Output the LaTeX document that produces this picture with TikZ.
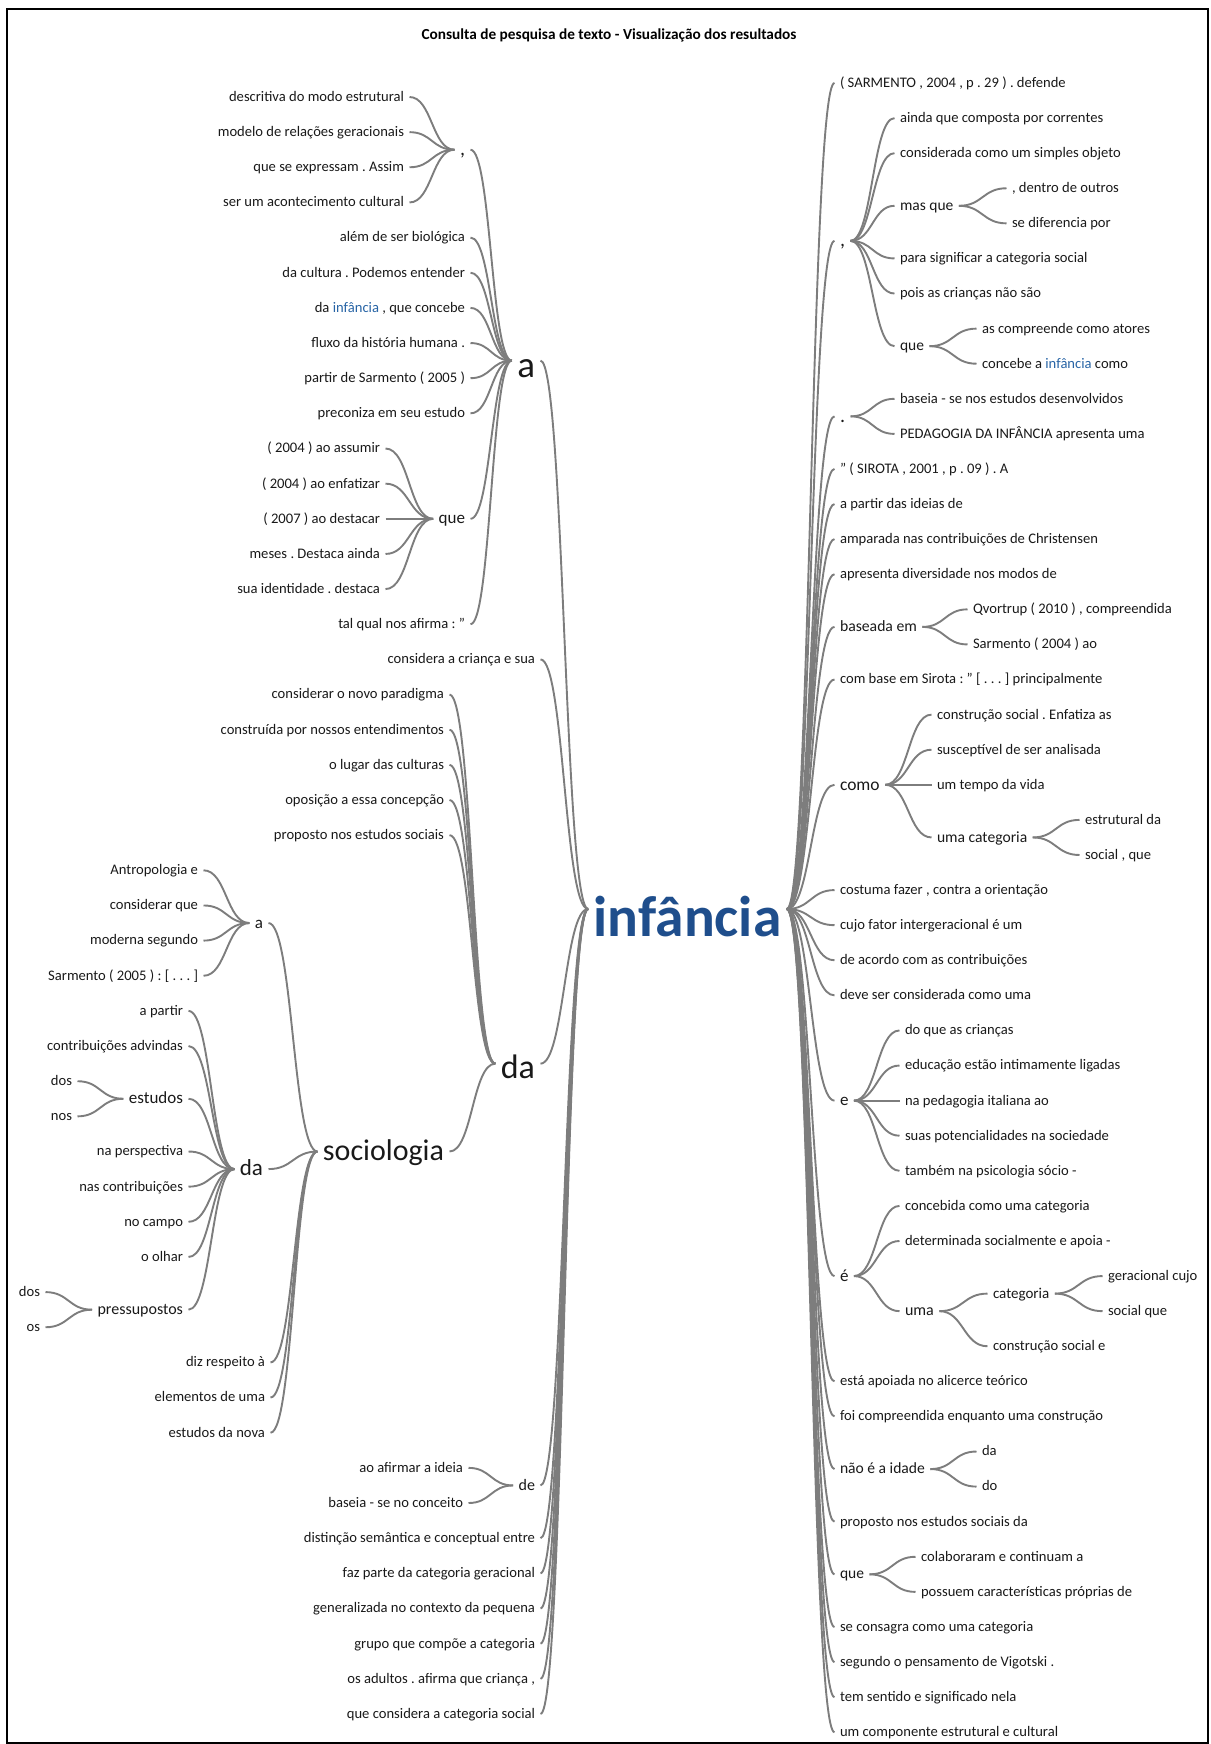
\documentclass[tikz,border=0pt]{standalone}
\usepackage{fontspec}
\setmainfont{Carlito}
\usetikzlibrary{calc}
\frenchspacing
\definecolor{lne}{RGB}{125,125,125}
\definecolor{txt}{RGB}{25,25,25}
\definecolor{rootc}{RGB}{31,78,140}
\definecolor{inb}{RGB}{40,100,165}
\newcommand\stt{\vrule width 0pt height .85em depth .25em\relax}
\newcommand\sttb{\vrule width 0pt height 1.15em depth .2em\relax}
\newcommand\ly[1]{97+35.15*(#1)}
\newcommand\ry[1]{83+35.09*(#1)}
\newcommand\lnk[2]{\draw[edge] let \p1=(#1.east), \p2=(#2.west), \n1={(\x1+\x2)/2} in (\p1) .. controls (\n1,\y1) and (\n1,\y2) .. (\p2);}
\tikzset{
  nd/.style={inner xsep=5.5pt, inner ysep=0pt, outer sep=0pt, text=txt,
    font=\fontsize{14.6}{16}\selectfont, execute at begin node=\stt},
  lnode/.style={nd, anchor=east},
  rnode/.style={nd, anchor=west},
  fz/.style={font=\fontsize{#1}{#1}\selectfont},
  bignode/.style={execute at begin node=\sttb},
  edge/.style={draw=lne, line width=1.9pt},
}
\begin{document}
\begin{tikzpicture}[x=1pt,y=-1pt]
\useasboundingbox (0,0) rectangle (1210,1744);
\draw[black, line width=1.5pt] (7,9) rectangle (1208,1743);
\node[font=\bfseries\fontsize{15.3}{16}\selectfont, text=black] (title) at (609,35) {Consulta de pesquisa de texto - Visualização dos resultados};

\node[font=\bfseries\fontsize{57.5}{57.5}\selectfont, text=rootc, inner xsep=5.5pt, inner ysep=0pt, outer sep=0pt, text height=54pt, text depth=0pt] (root) at (687.5,909) {infância};

% ---------------- left side ----------------
\node[lnode, fz=37, bignode] (aL) at (540.5,{\ly{7.5}}) {a};
\node[lnode, fz=20] (cmL) at (470.5,{\ly{1.5}}) {,};
\node[lnode] (l0) at (409.5,{\ly{0}}) {descritiva do modo estrutural};
\node[lnode] (l1) at (409.5,{\ly{1}}) {modelo de relações geracionais};
\node[lnode] (l2) at (409.5,{\ly{2}}) {que se expressam . Assim};
\node[lnode] (l3) at (409.5,{\ly{3}}) {ser um acontecimento cultural};
\node[lnode] (l4) at (470.5,{\ly{4}}) {além de ser biológica};
\node[lnode] (l5) at (470.5,{\ly{5}}) {da cultura . Podemos entender};
\node[lnode] (l6) at (470.5,{\ly{6}}) {da \textcolor{inb}{infância} , que concebe};
\node[lnode] (l7) at (470.5,{\ly{7}}) {fluxo da história humana .};
\node[lnode] (l8) at (470.5,{\ly{8}}) {partir de Sarmento ( 2005 )};
\node[lnode] (l9) at (470.5,{\ly{9}}) {preconiza em seu estudo};
\node[lnode, fz=17] (queL) at (470.5,{\ly{12}}) {que};
\node[lnode] (l10) at (385.5,{\ly{10}}) {( 2004 ) ao assumir};
\node[lnode] (l11) at (385.5,{\ly{11}}) {( 2004 ) ao enfatizar};
\node[lnode] (l12) at (385.5,{\ly{12}}) {( 2007 ) ao destacar};
\node[lnode] (l13) at (385.5,{\ly{13}}) {meses . Destaca ainda};
\node[lnode] (l14) at (385.5,{\ly{14}}) {sua identidade . destaca};
\node[lnode] (l15) at (470.5,{\ly{15}}) {tal qual nos afirma : "};
\node[lnode] (l16) at (540.5,{\ly{16}}) {considera a criança e sua};
\node[lnode, fz=34, bignode] (daM) at (540.5,{\ly{27.5}}) {da};
\node[lnode] (l17) at (449.5,{\ly{17}}) {considerar o novo paradigma};
\node[lnode] (l18) at (449.5,{\ly{18}}) {construída por nossos entendimentos};
\node[lnode] (l19) at (449.5,{\ly{19}}) {o lugar das culturas};
\node[lnode] (l20) at (449.5,{\ly{20}}) {oposição a essa concepção};
\node[lnode] (l21) at (449.5,{\ly{21}}) {proposto nos estudos sociais};
\node[lnode, fz=30] (soc) at (449.5,{\ly{30}}) {sociologia};
\node[lnode, fz=17] (aS) at (268.5,{\ly{23.5}}) {a};
\node[lnode] (l22) at (203.5,{\ly{22}}) {Antropologia e};
\node[lnode] (l23) at (203.5,{\ly{23}}) {considerar que};
\node[lnode] (l24) at (203.5,{\ly{24}}) {moderna segundo};
\node[lnode] (l25) at (203.5,{\ly{25}}) {Sarmento ( 2005 ) : [ . . . ]};
\node[lnode, fz=23] (daS) at (268.5,{\ly{30.5}}) {da};
\node[lnode] (l26) at (188.5,{\ly{26}}) {a partir};
\node[lnode] (l27) at (188.5,{\ly{27}}) {contribuições advindas};
\node[lnode, fz=17] (est) at (188.5,{\ly{28.5}}) {estudos};
\node[lnode] (l28) at (77.5,{\ly{28}}) {dos};
\node[lnode] (l29) at (77.5,{\ly{29}}) {nos};
\node[lnode] (l30) at (188.5,{\ly{30}}) {na perspectiva};
\node[lnode] (l31) at (188.5,{\ly{31}}) {nas contribuições};
\node[lnode] (l32) at (188.5,{\ly{32}}) {no campo};
\node[lnode] (l33) at (188.5,{\ly{33}}) {o olhar};
\node[lnode, fz=16] (pre) at (188.5,{\ly{34.5}}) {pressupostos};
\node[lnode] (l34) at (45.5,{\ly{34}}) {dos};
\node[lnode] (l35) at (45.5,{\ly{35}}) {os};
\node[lnode] (l36) at (270.5,{\ly{36}}) {diz respeito à};
\node[lnode] (l37) at (270.5,{\ly{37}}) {elementos de uma};
\node[lnode] (l38) at (270.5,{\ly{38}}) {estudos da nova};
\node[lnode, fz=16] (deL) at (540.5,{\ly{39.5}}) {de};
\node[lnode] (l39) at (468.5,{\ly{39}}) {ao afirmar a ideia};
\node[lnode] (l40) at (468.5,{\ly{40}}) {baseia - se no conceito};
\node[lnode] (l41) at (540.5,{\ly{41}}) {distinção semântica e conceptual entre};
\node[lnode] (l42) at (540.5,{\ly{42}}) {faz parte da categoria geracional};
\node[lnode] (l43) at (540.5,{\ly{43}}) {generalizada no contexto da pequena};
\node[lnode] (l44) at (540.5,{\ly{44}}) {grupo que compõe a categoria};
\node[lnode] (l45) at (540.5,{\ly{45}}) {os adultos . afirma que criança ,};
\node[lnode] (l46) at (540.5,{\ly{46}}) {que considera a categoria social};

% ---------------- right side ----------------
\node[rnode] (r0) at (834.5,{\ry{0}}) {( SARMENTO , 2004 , p . 29 ) . defende};
\node[rnode, fz=20] (cmR) at (834.5,{\ry{4.5}}) {,};
\node[rnode] (r1) at (894.5,{\ry{1}}) {ainda que composta por correntes};
\node[rnode] (r2) at (894.5,{\ry{2}}) {considerada como um simples objeto};
\node[rnode, fz=15.5] (masq) at (894.5,{\ry{3.5}}) {mas que};
\node[rnode] (r3) at (1006.5,{\ry{3}}) {, dentro de outros};
\node[rnode] (r4) at (1006.5,{\ry{4}}) {se diferencia por};
\node[rnode] (r5) at (894.5,{\ry{5}}) {para significar a categoria social};
\node[rnode] (r6) at (894.5,{\ry{6}}) {pois as crianças não são};
\node[rnode, fz=15.5] (queR) at (894.5,{\ry{7.5}}) {que};
\node[rnode] (r7) at (976.5,{\ry{7}}) {as compreende como atores};
\node[rnode] (r8) at (976.5,{\ry{8}}) {concebe a \textcolor{inb}{infância} como};
\node[rnode, fz=20] (dotR) at (834.5,{\ry{9.5}}) {.};
\node[rnode] (r9) at (894.5,{\ry{9}}) {baseia - se nos estudos desenvolvidos};
\node[rnode] (r10) at (894.5,{\ry{10}}) {PEDAGOGIA DA INFÂNCIA apresenta uma};
\node[rnode] (r11) at (834.5,{\ry{11}}) {" ( SIROTA , 2001 , p . 09 ) . A};
\node[rnode] (r12) at (834.5,{\ry{12}}) {a partir das ideias de};
\node[rnode] (r13) at (834.5,{\ry{13}}) {amparada nas contribuições de Christensen};
\node[rnode] (r14) at (834.5,{\ry{14}}) {apresenta diversidade nos modos de};
\node[rnode, fz=15.7] (bas) at (834.5,{\ry{15.5}}) {baseada em};
\node[rnode] (r15) at (967.5,{\ry{15}}) {Qvortrup ( 2010 ) , compreendida};
\node[rnode] (r16) at (967.5,{\ry{16}}) {Sarmento ( 2004 ) ao};
\node[rnode] (r17) at (834.5,{\ry{17}}) {com base em Sirota : " [ . . . ] principalmente};
\node[rnode, fz=17.5] (como) at (834.5,{\ry{20}}) {como};
\node[rnode] (r18) at (931.5,{\ry{18}}) {construção social . Enfatiza as};
\node[rnode] (r19) at (931.5,{\ry{19}}) {susceptível de ser analisada};
\node[rnode] (r20) at (931.5,{\ry{20}}) {um tempo da vida};
\node[rnode, fz=15.6] (umac) at (931.5,{\ry{21.5}}) {uma categoria};
\node[rnode] (r21) at (1079.5,{\ry{21}}) {estrutural da};
\node[rnode] (r22) at (1079.5,{\ry{22}}) {social , que};
\node[rnode] (r23) at (834.5,{\ry{23}}) {costuma fazer , contra a orientação};
\node[rnode] (r24) at (834.5,{\ry{24}}) {cujo fator intergeracional é um};
\node[rnode] (r25) at (834.5,{\ry{25}}) {de acordo com as contribuições};
\node[rnode] (r26) at (834.5,{\ry{26}}) {deve ser considerada como uma};
\node[rnode, fz=17] (eR) at (834.5,{\ry{29}}) {e};
\node[rnode] (r27) at (899.5,{\ry{27}}) {do que as crianças};
\node[rnode] (r28) at (899.5,{\ry{28}}) {educação estão intimamente ligadas};
\node[rnode] (r29) at (899.5,{\ry{29}}) {na pedagogia italiana ao};
\node[rnode] (r30) at (899.5,{\ry{30}}) {suas potencialidades na sociedade};
\node[rnode] (r31) at (899.5,{\ry{31}}) {também na psicologia sócio -};
\node[rnode, fz=17] (ecR) at (834.5,{\ry{34}}) {é};
\node[rnode] (r32) at (899.5,{\ry{32}}) {concebida como uma categoria};
\node[rnode] (r33) at (899.5,{\ry{33}}) {determinada socialmente e apoia -};
\node[rnode, fz=16] (uma) at (899.5,{\ry{35}}) {uma};
\node[rnode, fz=15] (cat) at (987.5,{\ry{34.5}}) {categoria};
\node[rnode] (r34) at (1102.5,{\ry{34}}) {geracional cujo};
\node[rnode] (r35) at (1102.5,{\ry{35}}) {social que};
\node[rnode] (r36) at (987.5,{\ry{36}}) {construção social e};
\node[rnode] (r37) at (834.5,{\ry{37}}) {está apoiada no alicerce teórico};
\node[rnode] (r38) at (834.5,{\ry{38}}) {foi compreendida enquanto uma construção};
\node[rnode, fz=15.6] (nao) at (834.5,{\ry{39.5}}) {não é a idade};
\node[rnode] (r39) at (976.5,{\ry{39}}) {da};
\node[rnode] (r40) at (976.5,{\ry{40}}) {do};
\node[rnode] (r41) at (834.5,{\ry{41}}) {proposto nos estudos sociais da};
\node[rnode, fz=15.5] (queR2) at (834.5,{\ry{42.5}}) {que};
\node[rnode] (r42) at (915.5,{\ry{42}}) {colaboraram e continuam a};
\node[rnode] (r43) at (915.5,{\ry{43}}) {possuem características próprias de};
\node[rnode] (r44) at (834.5,{\ry{44}}) {se consagra como uma categoria};
\node[rnode] (r45) at (834.5,{\ry{45}}) {segundo o pensamento de Vigotski .};
\node[rnode] (r46) at (834.5,{\ry{46}}) {tem sentido e significado nela};
\node[rnode] (r47) at (834.5,{\ry{47}}) {um componente estrutural e cultural};

% ---------------- connectors: left ----------------
\foreach \c in {aL,l16,daM,deL,l41,l42,l43,l44,l45,l46} {\lnk{\c}{root}}
\foreach \c in {cmL,l4,l5,l6,l7,l8,l9,queL,l15} {\lnk{\c}{aL}}
\foreach \c in {l0,l1,l2,l3} {\lnk{\c}{cmL}}
\foreach \c in {l10,l11,l12,l13,l14} {\lnk{\c}{queL}}
\foreach \c in {l17,l18,l19,l20,l21,soc} {\lnk{\c}{daM}}
\foreach \c in {aS,daS,l36,l37,l38} {\lnk{\c}{soc}}
\foreach \c in {l22,l23,l24,l25} {\lnk{\c}{aS}}
\foreach \c in {l26,l27,est,l30,l31,l32,l33,pre} {\lnk{\c}{daS}}
\foreach \c in {l28,l29} {\lnk{\c}{est}}
\foreach \c in {l34,l35} {\lnk{\c}{pre}}
\foreach \c in {l39,l40} {\lnk{\c}{deL}}

% ---------------- connectors: right ----------------
\foreach \c in {r0,cmR,dotR,r11,r12,r13,r14,bas,r17,como,r23,r24,r25,r26,eR,ecR,r37,r38,nao,r41,queR2,r44,r45,r46,r47} {\lnk{root}{\c}}
\foreach \c in {r1,r2,masq,r5,r6,queR} {\lnk{cmR}{\c}}
\foreach \c in {r3,r4} {\lnk{masq}{\c}}
\foreach \c in {r7,r8} {\lnk{queR}{\c}}
\foreach \c in {r9,r10} {\lnk{dotR}{\c}}
\foreach \c in {r15,r16} {\lnk{bas}{\c}}
\foreach \c in {r18,r19,r20,umac} {\lnk{como}{\c}}
\foreach \c in {r21,r22} {\lnk{umac}{\c}}
\foreach \c in {r27,r28,r29,r30,r31} {\lnk{eR}{\c}}
\foreach \c in {r32,r33,uma} {\lnk{ecR}{\c}}
\foreach \c in {cat,r36} {\lnk{uma}{\c}}
\foreach \c in {r34,r35} {\lnk{cat}{\c}}
\foreach \c in {r39,r40} {\lnk{nao}{\c}}
\foreach \c in {r42,r43} {\lnk{queR2}{\c}}
\end{tikzpicture}
\end{document}
